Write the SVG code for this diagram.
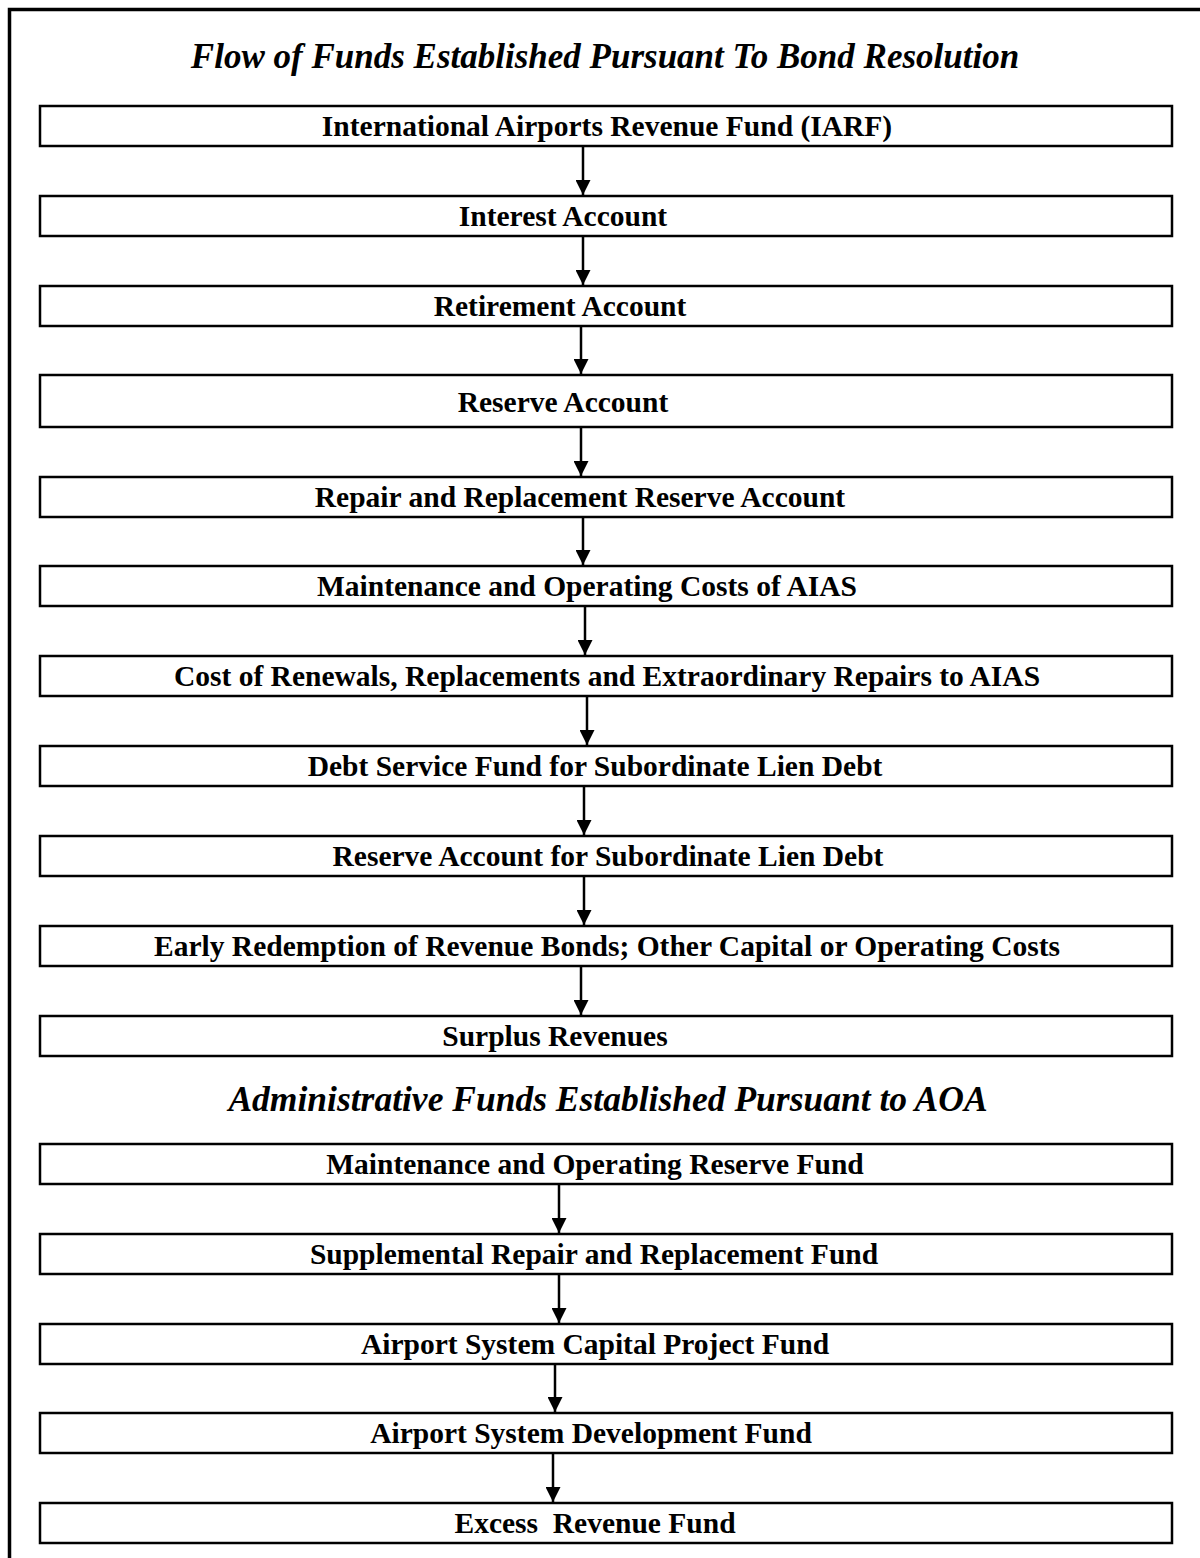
<svg xmlns="http://www.w3.org/2000/svg" width="1200" height="1558" viewBox="0 0 1200 1558">
<defs>
<marker id="ah" markerWidth="15" markerHeight="15" refX="15" refY="7.5" orient="auto" markerUnits="userSpaceOnUse" viewBox="0 0 15 15">
<path d="M0,0 L15,7.5 L0,15 Z" fill="#000"/>
</marker>
<style>
.box{fill:#fff;stroke:#000;stroke-width:2.5}
.lbl{font-family:"Liberation Serif","Times New Roman",serif;font-weight:bold;font-size:29.5px;text-anchor:middle;fill:#000}
.ttl{font-family:"Liberation Serif","Times New Roman",serif;font-weight:bold;font-style:italic;font-size:35px;text-anchor:middle;fill:#000}
.con{stroke:#000;stroke-width:2.5;fill:none}
</style>
</defs>
<rect width="1200" height="1558" fill="#fff"/>
<path d="M9.5,1558 V9.5 H1200" fill="none" stroke="#000" stroke-width="3.5"/>
<text class="ttl" x="605" y="68">Flow of Funds Established Pursuant To Bond Resolution</text>
<text class="ttl" x="608" y="1111" style="font-size:35.5px">Administrative Funds Established Pursuant to AOA</text>

<g id="n1"><rect class="box" x="40" y="106" width="1132" height="40"/><text class="lbl" x="607" y="136">International Airports Revenue Fund (IARF)</text></g>
<g id="n2"><rect class="box" x="40" y="196" width="1132" height="40"/><text class="lbl" x="563" y="226">Interest Account</text></g>
<g id="n3"><rect class="box" x="40" y="286" width="1132" height="40"/><text class="lbl" x="560" y="316">Retirement Account</text></g>
<g id="n4"><rect class="box" x="40" y="375" width="1132" height="52"/><text class="lbl" x="563" y="412">Reserve Account</text></g>
<g id="n5"><rect class="box" x="40" y="477" width="1132" height="40"/><text class="lbl" x="580" y="507">Repair and Replacement Reserve Account</text></g>
<g id="n6"><rect class="box" x="40" y="566" width="1132" height="40"/><text class="lbl" x="587" y="596">Maintenance and Operating Costs of AIAS</text></g>
<g id="n7"><rect class="box" x="40" y="656" width="1132" height="40"/><text class="lbl" x="607" y="686">Cost of Renewals, Replacements and Extraordinary Repairs to AIAS</text></g>
<g id="n8"><rect class="box" x="40" y="746" width="1132" height="40"/><text class="lbl" x="595" y="776">Debt Service Fund for Subordinate Lien Debt</text></g>
<g id="n9"><rect class="box" x="40" y="836" width="1132" height="40"/><text class="lbl" x="608" y="866">Reserve Account for Subordinate Lien Debt</text></g>
<g id="n10"><rect class="box" x="40" y="926" width="1132" height="40"/><text class="lbl" x="607" y="956">Early Redemption of Revenue Bonds; Other Capital or Operating Costs</text></g>
<g id="n11"><rect class="box" x="40" y="1016" width="1132" height="40"/><text class="lbl" x="555" y="1046">Surplus Revenues</text></g>

<g id="n12"><rect class="box" x="40" y="1144" width="1132" height="40"/><text class="lbl" x="595" y="1174">Maintenance and Operating Reserve Fund</text></g>
<g id="n13"><rect class="box" x="40" y="1234" width="1132" height="40"/><text class="lbl" x="594" y="1264">Supplemental Repair and Replacement Fund</text></g>
<g id="n14"><rect class="box" x="40" y="1324" width="1132" height="40"/><text class="lbl" x="595" y="1354">Airport System Capital Project Fund</text></g>
<g id="n15"><rect class="box" x="40" y="1413" width="1132" height="40"/><text class="lbl" x="591" y="1443">Airport System Development Fund</text></g>
<g id="n16"><rect class="box" x="40" y="1503" width="1132" height="40"/><text class="lbl" x="595" y="1533" xml:space="preserve" style="white-space:pre">Excess  Revenue Fund</text></g>

<g id="connectors">
<line class="con" x1="583" y1="147" x2="583" y2="195" marker-end="url(#ah)"/>
<line class="con" x1="583" y1="237" x2="583" y2="285" marker-end="url(#ah)"/>
<line class="con" x1="581" y1="327" x2="581" y2="374" marker-end="url(#ah)"/>
<line class="con" x1="581" y1="428" x2="581" y2="476" marker-end="url(#ah)"/>
<line class="con" x1="583" y1="518" x2="583" y2="565" marker-end="url(#ah)"/>
<line class="con" x1="585" y1="607" x2="585" y2="655" marker-end="url(#ah)"/>
<line class="con" x1="587" y1="697" x2="587" y2="745" marker-end="url(#ah)"/>
<line class="con" x1="584" y1="787" x2="584" y2="835" marker-end="url(#ah)"/>
<line class="con" x1="584" y1="877" x2="584" y2="925" marker-end="url(#ah)"/>
<line class="con" x1="581" y1="967" x2="581" y2="1015" marker-end="url(#ah)"/>
<line class="con" x1="559" y1="1185" x2="559" y2="1233" marker-end="url(#ah)"/>
<line class="con" x1="559" y1="1275" x2="559" y2="1323" marker-end="url(#ah)"/>
<line class="con" x1="555" y1="1365" x2="555" y2="1412" marker-end="url(#ah)"/>
<line class="con" x1="553" y1="1454" x2="553" y2="1502" marker-end="url(#ah)"/>
</g>
</svg>
